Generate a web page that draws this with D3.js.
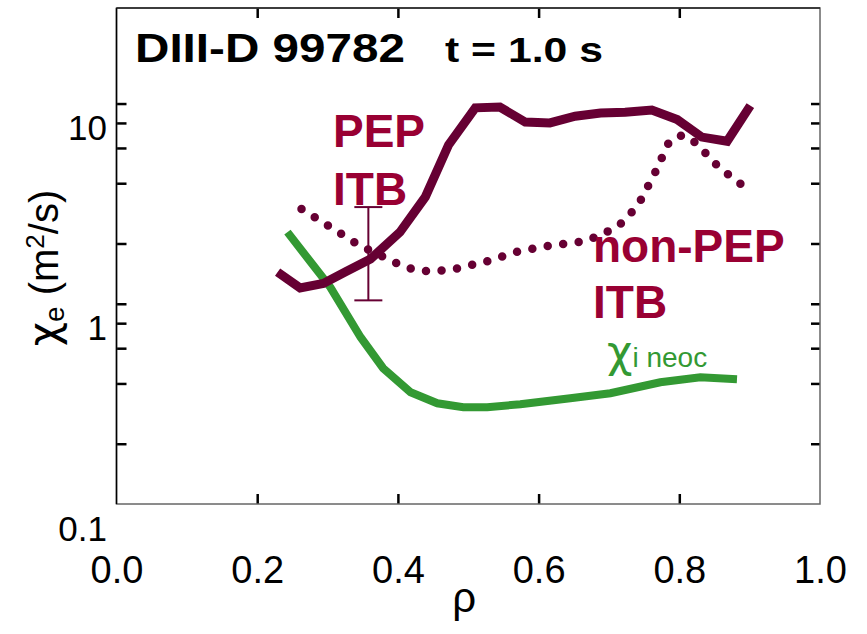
<!DOCTYPE html>
<html>
<head>
<meta charset="utf-8">
<script src="https://cdn.jsdelivr.net/npm/d3@7"></script>
<style>
  html, body { margin: 0; padding: 0; background: #fff; }
  svg { display: block; font-family: "Liberation Sans", Arial, sans-serif; }
</style>
</head>
<body>
<svg id="chart" width="867" height="634"></svg>
<script>
// Electron heat diffusivity profiles, DIII-D shot 99782 at t = 1.0 s
const pepRho   = [0.229, 0.261, 0.294, 0.325, 0.361, 0.403, 0.439, 0.472, 0.510, 0.545, 0.581, 0.616, 0.652, 0.688, 0.723, 0.761, 0.797, 0.832, 0.868, 0.901];
const pepChi   = [1.80, 1.50, 1.58, 1.80, 2.09, 2.85, 4.27, 7.76, 11.9, 12.0, 10.1, 10.0, 10.8, 11.2, 11.3, 11.6, 10.4, 8.5, 8.1, 12.2];

const nonPepRho = [0.263, 0.345, 0.409, 0.433, 0.456, 0.480, 0.527, 0.572, 0.619, 0.668, 0.690, 0.712, 0.729, 0.743, 0.766, 0.786, 0.805, 0.824, 0.857, 0.895];
const nonPepChi = [3.72, 2.45, 1.91, 1.82, 1.82, 1.86, 2.04, 2.29, 2.45, 2.57, 2.79, 3.02, 3.47, 3.98, 5.69, 8.13, 8.71, 7.94, 5.96, 4.73];

const neoRho = [0.243, 0.276, 0.304, 0.347, 0.379, 0.418, 0.456, 0.493, 0.527, 0.574, 0.645, 0.702, 0.773, 0.830, 0.882];
const neoChi = [2.85, 2.02, 1.51, 0.851, 0.596, 0.452, 0.398, 0.380, 0.380, 0.394, 0.422, 0.447, 0.507, 0.537, 0.525];

// error bar on the PEP profile
const errRho = [0.358];
const errLow = [1.30];
const errHigh = [3.8];

const xTicks = [0.2, 0.4, 0.6, 0.8];
const xTickLabels = [0.0, 0.2, 0.4, 0.6, 0.8, 1.0];
const yTicks = [0.25, 0.5, 0.75, 1, 1.25, 2.5, 5, 7.5, 10, 12.5];
const yTickLabels = [0.1, 1, 10];

const svg = d3.select("#chart");
const plotL = 116.5, plotR = 820, plotT = 8, plotB = 504;

const x = d3.scaleLinear().domain([0, 1]).range([plotL, plotR]);
const y = d3.scaleLog().domain([0.125, 37.5]).range([plotB, plotT]);

const maroon = "#660033";
const labelRed = "#990033";
const green = "#339933";
const greekFont = "DejaVu Sans, sans-serif";

// inward ticks on all four sides
function tickStyle(g) {
  g.select(".domain").remove();
  g.selectAll("line").attr("stroke", "#000").attr("stroke-width", 2.5);
}
svg.append("g").attr("transform", `translate(${plotL},0)`)
  .call(d3.axisRight(y).tickValues(yTicks).tickSize(10).tickFormat(""))
  .call(tickStyle);
svg.append("g").attr("transform", `translate(${plotR},0)`)
  .call(d3.axisLeft(y).tickValues(yTicks).tickSize(9).tickFormat(""))
  .call(tickStyle);
svg.append("g").attr("transform", `translate(0,${plotB})`)
  .call(d3.axisTop(x).tickValues(xTicks).tickSize(10).tickFormat(""))
  .call(tickStyle);
svg.append("g").attr("transform", `translate(0,${plotT})`)
  .call(d3.axisBottom(x).tickValues(xTicks).tickSize(10).tickFormat(""))
  .call(tickStyle);

// frame
svg.append("rect").attr("x", plotL).attr("y", plotT)
  .attr("width", plotR - plotL).attr("height", plotB - plotT)
  .attr("fill", "none").attr("stroke", "#666").attr("stroke-width", 1.5);
svg.append("line").attr("x1", plotL).attr("x2", plotL).attr("y1", plotT).attr("y2", plotB)
  .attr("stroke", "#000").attr("stroke-width", 1.5);
svg.append("line").attr("x1", plotL).attr("x2", plotR).attr("y1", plotT).attr("y2", plotT)
  .attr("stroke", "#222").attr("stroke-width", 1.5);

// tick labels
const yLab = svg.append("g").attr("transform", "translate(107,0)")
  .call(d3.axisLeft(y).tickValues(yTickLabels).tickSize(0).tickPadding(0).tickFormat(d3.format("")));
yLab.select(".domain").remove();
yLab.selectAll("text").attr("font-size", 35).attr("font-family", "Liberation Sans, Arial, sans-serif")
  .attr("fill", "#000").attr("dy", "0.48em");

const xLab = svg.append("g").attr("transform", "translate(0,545)")
  .call(d3.axisBottom(x).tickValues(xTickLabels).tickSize(0).tickPadding(0).tickFormat(d3.format(".1f")));
xLab.select(".domain").remove();
xLab.selectAll("text").attr("font-size", 38).attr("font-family", "Liberation Sans, Arial, sans-serif")
  .attr("fill", "#000").attr("dy", "1em");

// axis titles
svg.append("text").attr("x", x(0.5) - 4).attr("y", 612)
  .attr("text-anchor", "middle").attr("font-size", 42).text("ρ");

const yTitle = svg.append("text")
  .attr("transform", "translate(58,268) rotate(-90)")
  .attr("text-anchor", "middle").attr("font-size", 40);
yTitle.append("tspan").attr("font-family", greekFont).attr("font-size", 42).text("χ");
yTitle.append("tspan").attr("font-size", 28).attr("dy", 6).text("e");
yTitle.append("tspan").attr("dy", -6).text(" (m");
yTitle.append("tspan").attr("font-size", 26).attr("dy", -14).text("2");
yTitle.append("tspan").attr("dy", 14).text("/s)");

// curves
const line = d3.line().x(d => x(d[0])).y(d => y(d[1]));

svg.append("path").datum(d3.zip(neoRho, neoChi))
  .attr("d", line).attr("fill", "none").attr("stroke", green).attr("stroke-width", 8);

svg.append("path").datum(d3.zip(nonPepRho, nonPepChi))
  .attr("d", line).attr("fill", "none").attr("stroke", maroon)
  .attr("stroke-width", 8.5).attr("stroke-linecap", "round")
  .attr("stroke-dasharray", "0 15.6");

svg.append("path").datum(d3.zip(pepRho, pepChi))
  .attr("d", line).attr("fill", "none").attr("stroke", maroon)
  .attr("stroke-width", 9).attr("stroke-linejoin", "miter");

// error bar
const eb = svg.append("g").attr("stroke", maroon).attr("stroke-width", 2);
errRho.forEach((r, i) => {
  eb.append("line").attr("x1", x(r)).attr("x2", x(r)).attr("y1", y(errLow[i])).attr("y2", y(errHigh[i]));
  eb.append("line").attr("x1", x(r) - 14).attr("x2", x(r) + 14).attr("y1", y(errLow[i])).attr("y2", y(errLow[i]));
  eb.append("line").attr("x1", x(r) - 14).attr("x2", x(r) + 14).attr("y1", y(errHigh[i])).attr("y2", y(errHigh[i]));
});

// annotations
svg.append("text").attr("x", 135).attr("y", 62).attr("font-size", 41).attr("font-weight", "bold")
  .attr("textLength", 270).attr("lengthAdjust", "spacingAndGlyphs").text("DIII-D 99782");
svg.append("text").attr("x", 445).attr("y", 62).attr("font-size", 35).attr("font-weight", "bold")
  .attr("textLength", 158).attr("lengthAdjust", "spacingAndGlyphs").text("t = 1.0 s");

const lab = svg.append("g").attr("fill", labelRed).attr("font-weight", "bold").attr("font-size", 46);
lab.append("text").attr("x", 333).attr("y", 147).text("PEP");
lab.append("text").attr("x", 333).attr("y", 205).text("ITB");
lab.append("text").attr("x", 593).attr("y", 262).text("non-PEP");
lab.append("text").attr("x", 593).attr("y", 318).text("ITB");

const neoLab = svg.append("text").attr("x", 607).attr("y", 367).attr("fill", green);
neoLab.append("tspan").attr("font-family", greekFont).attr("font-size", 44).text("χ");
neoLab.append("tspan").attr("font-size", 28).text("i neoc");
</script>
</body>
</html>
